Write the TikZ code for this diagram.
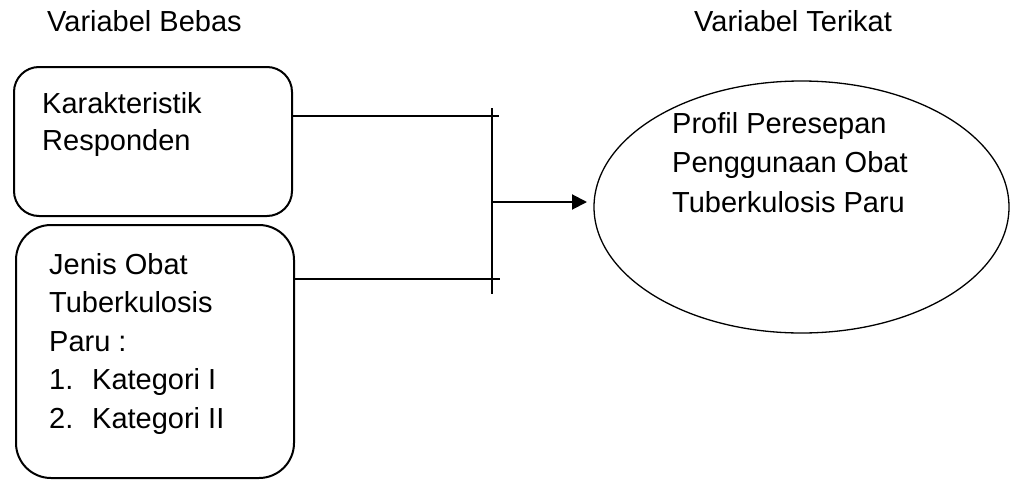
\documentclass[tikz,border=0pt]{standalone}
\usepackage{fontspec}
\setmainfont{Liberation Sans}
\usetikzlibrary{shapes.geometric,arrows.meta}
\begin{document}
\begin{tikzpicture}[x=1pt,y=-1pt,
  txt/.style={inner sep=0pt,anchor=base west,align=left,font=\fontsize{29}{38.5}\selectfont},
  ttl/.style={inner sep=0pt,anchor=base west,font=\fontsize{29}{35}\selectfont},
  box/.style={draw,line width=2pt},
  conn/.style={line width=2pt},
  arr/.style={line width=2pt,-{Triangle[length=15pt,width=15pt]}}]
\useasboundingbox (0,0) rectangle (1011,482);
% titles
\node[ttl] (t1) at (47,31) {Variabel Bebas};
\node[ttl] (t2) at (694,31) {Variabel Terikat};
% boxes
\draw[box,rounded corners=25pt] (14,67) rectangle (292,216);
\coordinate (b1e) at (292,116);
\draw[box,rounded corners=35pt] (16,225) rectangle (294,478);
\coordinate (b2e) at (294,279);
% multi-line nodes: base = baseline of last line
\node[txt,font=\fontsize{29}{37}\selectfont] (k) at (42,150) {Karakteristik\\Responden};
\node[txt] (j) at (49,428) {Jenis Obat\\Tuberkulosis\\Paru :\\\makebox[43pt][l]{1.}Kategori I\\\makebox[43pt][l]{2.}Kategori II};
% ellipse
\node[draw,ellipse,line width=1.3pt,minimum width=415pt,minimum height=252pt,inner sep=0pt] (e) at (801.5,207) {};
\node[txt,font=\fontsize{29}{39.5}\selectfont] (p) at (672,212) {Profil Peresepan\\Penggunaan Obat\\Tuberkulosis Paru};
% connectors
\coordinate (vt) at (492,108);
\coordinate (vb) at (492,294);
\coordinate (h1) at (499,116);
\coordinate (h2) at (500,279);
\coordinate (am) at (492,202);
\coordinate (tip) at (587,202);
\draw[conn] (b1e) -- (h1);
\draw[conn] (b2e) -- (h2);
\draw[conn] (vt) -- (vb);
\draw[arr] (am) -- (tip);
\end{tikzpicture}
\end{document}
